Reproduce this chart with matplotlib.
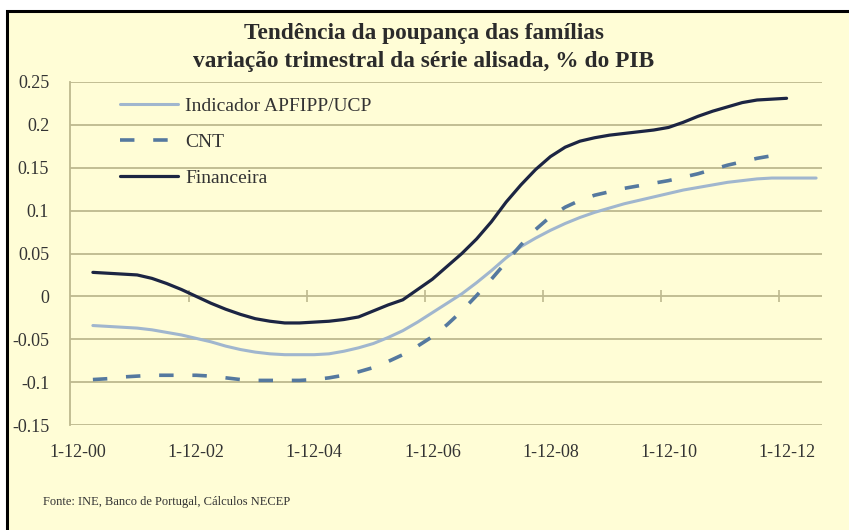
import matplotlib
matplotlib.use("Agg")
import matplotlib.pyplot as plt
from matplotlib.patches import Rectangle
import numpy as np

# ---- data (quarter index: 0 = Dec 2000) ----
tick_labels = ["1-12-00", "1-12-02", "1-12-04", "1-12-06", "1-12-08", "1-12-10", "1-12-12"]
tick_pos = [0, 8, 16, 24, 32, 40, 48]

indicador = [-0.034, -0.035, -0.036, -0.037, -0.039, -0.042, -0.045, -0.049, -0.053, -0.058,
             -0.062, -0.065, -0.067, -0.068, -0.068, -0.068, -0.067, -0.064, -0.060, -0.055,
             -0.048, -0.040, -0.030, -0.019, -0.008, 0.003, 0.016, 0.030, 0.045, 0.058,
             0.068, 0.077, 0.085, 0.092, 0.098, 0.103, 0.108, 0.112, 0.116, 0.120,
             0.124, 0.127, 0.130, 0.133, 0.135, 0.137, 0.138, 0.138, 0.138, 0.138]
cnt = [-0.097, -0.096, -0.094, -0.093, -0.092, -0.092, -0.092, -0.092, -0.093, -0.095,
       -0.097, -0.098, -0.098, -0.098, -0.098, -0.097, -0.095, -0.092, -0.088, -0.083,
       -0.076, -0.068, -0.058, -0.047, -0.033, -0.017, 0.001, 0.020, 0.040, 0.060,
       0.078, 0.093, 0.104, 0.112, 0.118, 0.122, 0.126, 0.129, 0.132, 0.135,
       0.139, 0.143, 0.148, 0.153, 0.157, 0.161, 0.164, 0.166]
financeira = [0.028, 0.027, 0.026, 0.025, 0.021, 0.015, 0.008, 0.000, -0.008, -0.015,
              -0.021, -0.026, -0.029, -0.031, -0.031, -0.030, -0.029, -0.027, -0.024, -0.017,
              -0.010, -0.004, 0.008, 0.020, 0.035, 0.050, 0.067, 0.087, 0.110, 0.130,
              0.148, 0.163, 0.174, 0.181, 0.185, 0.188, 0.190, 0.192, 0.194, 0.197,
              0.203, 0.210, 0.216, 0.221, 0.226, 0.229, 0.230, 0.231]

x_ind = np.arange(1, len(indicador) + 1)
x_cnt = np.arange(1, len(cnt) + 1)
x_fin = np.arange(1, len(financeira) + 1)

BG = "#FFFDD6"
GRID = "#BDB98F"
SERIF = ["Liberation Serif", "DejaVu Serif"]

plt.rcParams["font.family"] = SERIF

fig = plt.figure(figsize=(8.49, 5.30), dpi=100, facecolor="white")
W, H = 849, 530
fig.patches.append(Rectangle((7 / W, -0.05), 1.2, 1 - 11 / H + 0.05,
                             transform=fig.transFigure, facecolor=BG,
                             edgecolor="black", linewidth=2.2, zorder=-10))

ax = fig.add_axes([70 / W, 1 - 425 / H, (822 - 70) / W, (425 - 82) / H])
ax.set_facecolor("none")

ax.plot(x_ind, indicador, color="#A0B6CE", lw=2.2, label="Indicador APFIPP/UCP",
        solid_capstyle="round")
ax.plot(x_cnt, cnt, color="#55799F", lw=2.6, dashes=(4, 5.2), label="CNT")
ax.plot(x_fin, financeira, color="#1C2543", lw=2.3, label="Financeira",
        solid_capstyle="round")

ax.set_xlim(-0.55, 50.4)
ax.set_ylim(-0.15, 0.25)
ax.set_yticks([-0.15, -0.1, -0.05, 0, 0.05, 0.1, 0.15, 0.2, 0.25])
ax.set_yticklabels(["-0.15", "-0.1", "-0.05", "0", "0.05", "0.1", "0.15", "0.2", "0.25"])
ax.set_xticks(tick_pos)
ax.set_xticklabels(tick_labels)
ax.yaxis.grid(True, color=GRID, lw=1.3)
ax.set_axisbelow(True)
ax.tick_params(axis="both", length=0, labelsize=13, colors="#333333")
ax.tick_params(axis="y", pad=15)
ax.tick_params(axis="x", pad=14)

for s in ["top", "right", "bottom"]:
    ax.spines[s].set_visible(False)
ax.spines["left"].set_color(GRID)
ax.spines["left"].set_linewidth(1.3)

# tick marks crossing the zero line
sec = ax.secondary_xaxis(0.375)
sec.set_xticks([7.5, 15.5, 23.5, 31.5, 39.5, 47.5])
sec.set_xticklabels([])
sec.tick_params(direction="inout", length=9, color=GRID, width=1.2)
sec.spines["bottom"].set_visible(False)

leg = ax.legend(loc="upper left", bbox_to_anchor=(50 / 752, 1 - 15 / 343), frameon=False,
                fontsize=14, handlelength=3.0, handletextpad=0.35, labelspacing=0.95,
                borderpad=0, borderaxespad=0)
for t in leg.get_texts():
    t.set_color("#333333")

fig.text(424 / W, 1 - 33 / H, "Tendência da poupança das famílias", ha="center", va="center",
         fontsize=16.8, fontweight="bold", color="#2B2B2B")
fig.text(424 / W, 1 - 62 / H, "variação trimestral da série alisada, % do PIB", ha="center",
         va="center", fontsize=16.8, fontweight="bold", color="#2B2B2B")
fig.text(43 / W, 1 - 502 / H, "Fonte: INE, Banco de Portugal, Cálculos NECEP", ha="left",
         va="center", fontsize=9, color="#333333")

fig.savefig("out.png", dpi=100, facecolor="white")
